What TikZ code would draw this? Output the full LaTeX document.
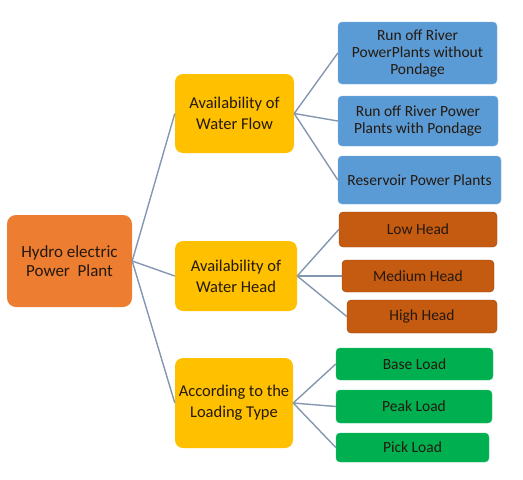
\documentclass[tikz,border=0pt]{standalone}
\usepackage{fontspec}
\setmainfont{Carlito}
\definecolor{rootc}{HTML}{ED7D31}
\definecolor{midc}{HTML}{FFC000}
\definecolor{bluec}{HTML}{5B9BD5}
\definecolor{brownc}{HTML}{C55A11}
\definecolor{greenc}{HTML}{00B050}
\definecolor{txtc}{HTML}{24190F}
\definecolor{linec}{HTML}{8497B0}
\begin{document}
\begin{tikzpicture}[x=1pt,y=-1pt,
  box/.style={rounded corners=4pt, inner sep=1pt, align=center, text=txtc, font=\fontsize{15.5}{17}\selectfont},
  rootbox/.style={box, fill=rootc, rounded corners=9pt, font=\fontsize{17}{19.5}\selectfont},
  midbox/.style={box, fill=midc, rounded corners=8pt, font=\fontsize{16.5}{21}\selectfont},
  bluebox/.style={box, fill=bluec, draw=bluec!80!white},
  brownbox/.style={box, fill=brownc, draw=brownc!80!black},
  greenbox/.style={box, fill=greenc, draw=greenc!85!white},
  conn/.style={draw=linec, line width=1.4pt}]
\useasboundingbox (0,0) rectangle (523,480);
\node[rootbox, minimum width=125pt, minimum height=92pt] (root) at (69.5,261) {Hydro electric\\Power\ \ Plant};
\node[midbox, minimum width=119pt, minimum height=79pt] (wf) at (234.5,113.5) {Availability of\\Water Flow};
\node[midbox, minimum width=122pt, minimum height=70pt] (wh) at (236,276) {Availability of\\Water Head};
\node[midbox, minimum width=118pt, minimum height=90pt] (lt) at (234,403) {According to the\\Loading Type};
\node[bluebox, minimum width=159pt, minimum height=62pt] (a1) at (417.5,53) {Run off River\\PowerPlants without\\Pondage};
\node[bluebox, minimum width=160pt, minimum height=50pt] (a2) at (418,121) {Run off River Power\\Plants with Pondage};
\node[bluebox, minimum width=163pt, minimum height=48pt] (a3) at (419.5,180) {Reservoir Power Plants};
\node[brownbox, minimum width=158pt, minimum height=35pt] (b1) at (418,229.5) {Low Head};
\node[brownbox, minimum width=152pt, minimum height=32pt] (b2) at (418,276) {Medium Head};
\node[brownbox, minimum width=150pt, minimum height=33pt] (b3) at (422,316.5) {High Head};
\node[greenbox, minimum width=157pt, minimum height=32pt] (c1) at (414.5,364) {Base Load};
\node[greenbox, minimum width=156pt, minimum height=33pt] (c2) at (414,406.5) {Peak Load};
\node[greenbox, minimum width=153pt, minimum height=29pt] (c3) at (412.5,447.5) {Pick Load};
\foreach \c in {wf,wh,lt} \draw[conn] (root.east) -- (\c.west);
\foreach \c in {a1,a2,a3} \draw[conn] (wf.east) -- (\c.west);
\foreach \c in {b1,b2,b3} \draw[conn] (wh.east) -- (\c.west);
\foreach \c in {c1,c2,c3} \draw[conn] (lt.east) -- (\c.west);
\end{tikzpicture}
\end{document}
